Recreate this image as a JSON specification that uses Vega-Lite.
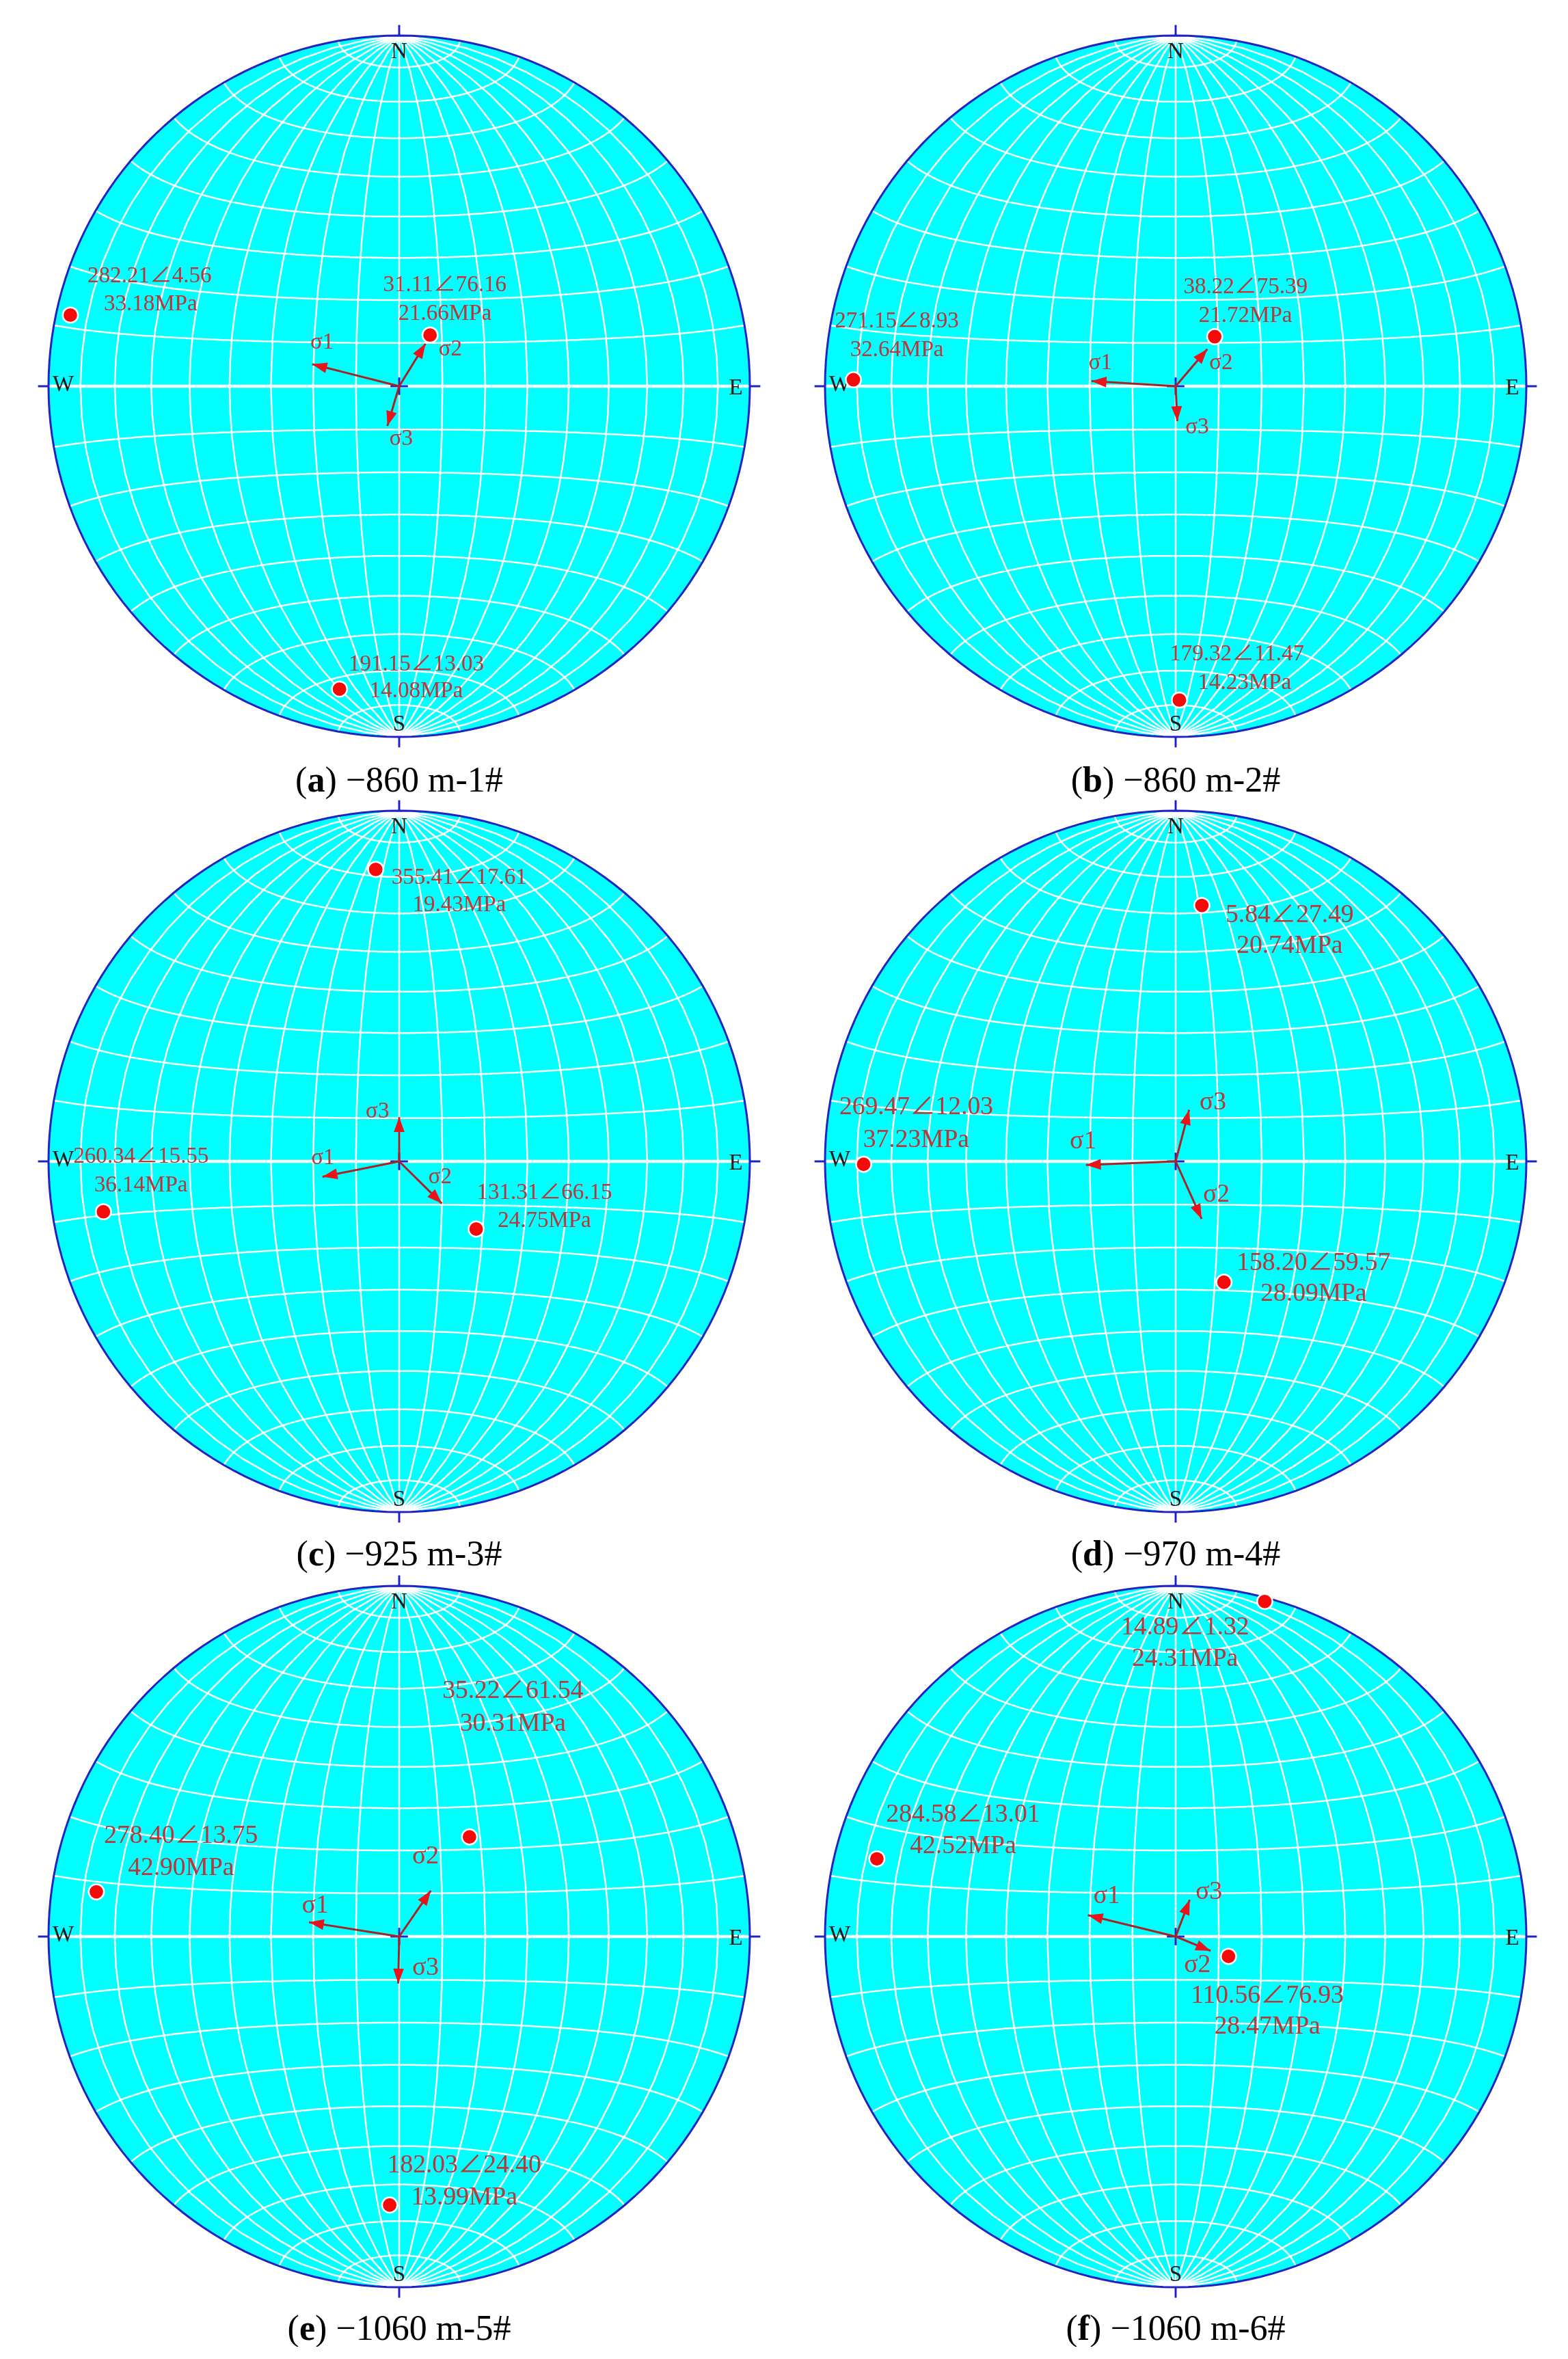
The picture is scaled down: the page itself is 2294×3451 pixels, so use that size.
{
"$schema": "https://vega.github.io/schema/vega-lite/v6.json",
"background": "white",
"padding": {"left": 14, "top": 0, "right": 0, "bottom": 0},
"bounds": "flush",
"spacing": 0,
"columns": 2,
"config": {"view": {"stroke": null}},
"datasets": {
"eq": [{"x": -0.995, "y": 0, "x2": 0.995, "y2": 0}],
"ax": [
{"x": 0, "y": 1, "x2": 0, "y2": 1.03},
{"x": 0, "y": -1, "x2": 0, "y2": -1.03},
{"x": -1, "y": 0, "x2": -1.03, "y2": 0},
{"x": 1, "y": 0, "x2": 1.03, "y2": 0},
{"x": -0.025, "y": 0, "x2": 0.025, "y2": 0},
{"x": 0, "y": -0.025, "x2": 0, "y2": 0.025}
],
"dirs": [
{"t": "N", "x": 0, "y": 0.955},
{"t": "S", "x": 0, "y": -0.962},
{"t": "W", "x": -0.958, "y": 0.006},
{"t": "E", "x": 0.96, "y": -0.004}
],
"pts": [
{"p": "a", "trend": 282.21, "plunge": 4.56, "mpa": 33.18, "x": -0.9378, "y": 0.2029},
{"p": "a", "trend": 31.11, "plunge": 76.16, "mpa": 21.66, "x": 0.0880, "y": 0.1459},
{"p": "a", "trend": 191.15, "plunge": 13.03, "mpa": 14.08, "x": -0.1702, "y": -0.8637},
{"p": "b", "trend": 271.15, "plunge": 8.93, "mpa": 32.64, "x": -0.9190, "y": 0.0185},
{"p": "b", "trend": 38.22, "plunge": 75.39, "mpa": 21.72, "x": 0.1113, "y": 0.1413},
{"p": "b", "trend": 179.32, "plunge": 11.47, "mpa": 14.23, "x": 0.0106, "y": -0.8950},
{"p": "c", "trend": 355.41, "plunge": 17.61, "mpa": 19.43, "x": -0.0669, "y": 0.8326},
{"p": "c", "trend": 260.34, "plunge": 15.55, "mpa": 36.14, "x": -0.8435, "y": -0.1436},
{"p": "c", "trend": 131.31, "plunge": 66.15, "mpa": 24.75, "x": 0.2195, "y": -0.1929},
{"p": "d", "trend": 5.84, "plunge": 27.49, "mpa": 20.74, "x": 0.0747, "y": 0.7299},
{"p": "d", "trend": 269.47, "plunge": 12.03, "mpa": 37.23, "x": -0.8899, "y": -0.0082},
{"p": "d", "trend": 158.20, "plunge": 59.57, "mpa": 28.09, "x": 0.1378, "y": -0.3446},
{"p": "e", "trend": 35.22, "plunge": 61.54, "mpa": 30.31, "x": 0.2005, "y": 0.2840},
{"p": "e", "trend": 278.40, "plunge": 13.75, "mpa": 42.90, "x": -0.8637, "y": 0.1275},
{"p": "e", "trend": 182.03, "plunge": 24.40, "mpa": 13.99, "x": -0.0271, "y": -0.7656},
{"p": "f", "trend": 14.89, "plunge": 1.32, "mpa": 24.31, "x": 0.2541, "y": 0.9555},
{"p": "f", "trend": 284.58, "plunge": 13.01, "mpa": 42.52, "x": -0.8521, "y": 0.2216},
{"p": "f", "trend": 110.56, "plunge": 76.93, "mpa": 28.47, "x": 0.1507, "y": -0.0565}
],
"arr": [
{"p": "a", "s": "σ1", "x": 0, "y": 0, "x2": -0.2481, "y2": 0.0628, "ang": 284.2},
{"p": "a", "s": "σ2", "x": 0, "y": 0, "x2": 0.0749, "y2": 0.1214, "ang": 31.7},
{"p": "a", "s": "σ3", "x": 0, "y": 0, "x2": -0.0337, "y2": -0.1133, "ang": 196.6},
{"p": "b", "s": "σ1", "x": 0, "y": 0, "x2": -0.2399, "y2": 0.0146, "ang": 273.5},
{"p": "b", "s": "σ2", "x": 0, "y": 0, "x2": 0.0901, "y2": 0.1057, "ang": 40.4},
{"p": "b", "s": "σ3", "x": 0, "y": 0, "x2": 0.0047, "y2": -0.0998, "ang": 177.3},
{"p": "c", "s": "σ1", "x": 0, "y": 0, "x2": -0.2187, "y2": -0.0438, "ang": 258.7},
{"p": "c", "s": "σ2", "x": 0, "y": 0, "x2": 0.1216, "y2": -0.1201, "ang": 134.6},
{"p": "c", "s": "σ3", "x": 0, "y": 0, "x2": 0.0, "y2": 0.1263, "ang": 0},
{"p": "d", "s": "σ1", "x": 0, "y": 0, "x2": -0.2559, "y2": -0.0101, "ang": 267.7},
{"p": "d", "s": "σ2", "x": 0, "y": 0, "x2": 0.0741, "y2": -0.1641, "ang": 155.7},
{"p": "d", "s": "σ3", "x": 0, "y": 0, "x2": 0.0384, "y2": 0.1468, "ang": 14.7},
{"p": "e", "s": "σ1", "x": 0, "y": 0, "x2": -0.2573, "y2": 0.0407, "ang": 279.0},
{"p": "e", "s": "σ2", "x": 0, "y": 0, "x2": 0.0902, "y2": 0.131, "ang": 34.5},
{"p": "e", "s": "σ3", "x": 0, "y": 0, "x2": -0.0027, "y2": -0.1341, "ang": 181.2},
{"p": "f", "s": "σ1", "x": 0, "y": 0, "x2": -0.2503, "y2": 0.061, "ang": 283.7},
{"p": "f", "s": "σ2", "x": 0, "y": 0, "x2": 0.0996, "y2": -0.0409, "ang": 112.3},
{"p": "f", "s": "σ3", "x": 0, "y": 0, "x2": 0.04, "y2": 0.1047, "ang": 20.9}
],
"txt": [
{"p": "a", "t": "282.21∠4.56", "x": -0.7113, "y": 0.3166},
{"p": "a", "t": "33.18MPa", "x": -0.7086, "y": 0.2359},
{"p": "a", "t": "31.11∠76.16", "x": 0.1306, "y": 0.2901},
{"p": "a", "t": "21.66MPa", "x": 0.1306, "y": 0.2094},
{"p": "a", "t": "191.15∠13.03", "x": 0.0491, "y": -0.7911},
{"p": "a", "t": "14.08MPa", "x": 0.0491, "y": -0.8674},
{"p": "a", "t": "σ1", "x": -0.2197, "y": 0.1258},
{"p": "a", "t": "σ2", "x": 0.1464, "y": 0.1068},
{"p": "a", "t": "σ3", "x": 0.0062, "y": -0.1485},
{"p": "b", "t": "271.15∠8.93", "x": -0.7946, "y": 0.1877},
{"p": "b", "t": "32.64MPa", "x": -0.7946, "y": 0.1056},
{"p": "b", "t": "38.22∠75.39", "x": 0.1996, "y": 0.2846},
{"p": "b", "t": "21.72MPa", "x": 0.1996, "y": 0.2024},
{"p": "b", "t": "179.32∠11.47", "x": 0.1754, "y": -0.7628},
{"p": "b", "t": "14.23MPa", "x": 0.1969, "y": -0.8435},
{"p": "b", "t": "σ1", "x": -0.2144, "y": 0.069},
{"p": "b", "t": "σ2", "x": 0.1298, "y": 0.069},
{"p": "b", "t": "σ3", "x": 0.0616, "y": -0.1144},
{"p": "c", "t": "355.41∠17.61", "x": 0.1716, "y": 0.8114},
{"p": "c", "t": "19.43MPa", "x": 0.1716, "y": 0.7337},
{"p": "c", "t": "260.34∠15.55", "x": -0.7361, "y": 0.0148},
{"p": "c", "t": "36.14MPa", "x": -0.7361, "y": -0.0659},
{"p": "c", "t": "131.31∠66.15", "x": 0.4146, "y": -0.0879},
{"p": "c", "t": "24.75MPa", "x": 0.4146, "y": -0.1671},
{"p": "c", "t": "σ1", "x": -0.2172, "y": 0.0119},
{"p": "c", "t": "σ2", "x": 0.1173, "y": -0.0438},
{"p": "c", "t": "σ3", "x": -0.0614, "y": 0.1439},
{"p": "d", "t": "5.84∠27.49", "x": 0.3257, "y": 0.7043},
{"p": "d", "t": "20.74MPa", "x": 0.3257, "y": 0.6163},
{"p": "d", "t": "269.47∠12.03", "x": -0.7395, "y": 0.1557},
{"p": "d", "t": "37.23MPa", "x": -0.7395, "y": 0.0632},
{"p": "d", "t": "158.20∠59.57", "x": 0.394, "y": -0.2889},
{"p": "d", "t": "28.09MPa", "x": 0.394, "y": -0.3768},
{"p": "d", "t": "σ1", "x": -0.263, "y": 0.0589},
{"p": "d", "t": "σ2", "x": 0.1167, "y": -0.0937},
{"p": "d", "t": "σ3", "x": 0.1068, "y": 0.1688},
{"p": "e", "t": "35.22∠61.54", "x": 0.3246, "y": 0.7016},
{"p": "e", "t": "30.31MPa", "x": 0.3246, "y": 0.6084},
{"p": "e", "t": "278.40∠13.75", "x": -0.6218, "y": 0.2881},
{"p": "e", "t": "42.90MPa", "x": -0.6218, "y": 0.1965},
{"p": "e", "t": "182.03∠24.40", "x": 0.186, "y": -0.6509},
{"p": "e", "t": "13.99MPa", "x": 0.186, "y": -0.7425},
{"p": "e", "t": "σ1", "x": -0.2386, "y": 0.0902},
{"p": "e", "t": "σ2", "x": 0.0758, "y": 0.2299},
{"p": "e", "t": "σ3", "x": 0.0758, "y": -0.0875},
{"p": "f", "t": "14.89∠1.32", "x": 0.0271, "y": 0.8836},
{"p": "f", "t": "24.31MPa", "x": 0.0271, "y": 0.7933},
{"p": "f", "t": "284.58∠13.01", "x": -0.6058, "y": 0.3493},
{"p": "f", "t": "42.52MPa", "x": -0.6058, "y": 0.259},
{"p": "f", "t": "110.56∠76.93", "x": 0.2618, "y": -0.1675},
{"p": "f", "t": "28.47MPa", "x": 0.2618, "y": -0.2548},
{"p": "f", "t": "σ1", "x": -0.1961, "y": 0.1164},
{"p": "f", "t": "σ2", "x": 0.0626, "y": -0.0801},
{"p": "f", "t": "σ3", "x": 0.0953, "y": 0.128}
],
"cap": [
{"p": "a", "letter": "a", "rest": ") −860 m-1#", "x": 0, "y": -1.155},
{"p": "b", "letter": "b", "rest": ") −860 m-2#", "x": 0, "y": -1.155},
{"p": "c", "letter": "c", "rest": ") −925 m-3#", "x": 0, "y": -1.152},
{"p": "d", "letter": "d", "rest": ") −970 m-4#", "x": 0, "y": -1.152},
{"p": "e", "letter": "e", "rest": ") −1060 m-5#", "x": 0, "y": -1.15},
{"p": "f", "letter": "f", "rest": ") −1060 m-6#", "x": 0, "y": -1.15}
]
},
"concat": [
{
"width": 1136, "height": 1134,
"projection": {"type": "azimuthalEqualArea", "scale": 362.75, "translate": [570, 565], "clipAngle": 90, "rotate": [0, 0, 0]},
"layer": [
{"data": {"sphere": true}, "mark": {"type": "geoshape", "fill": "#00ffff", "strokeWidth": 0}},
{"data": {"graticule": {"stepMinor": [10, 10], "extentMinor": [[-180, -89.99], [180, 89.99]], "extentMajor": [[-180, -89.99], [180, 89.99]]}}, "mark": {"type": "geoshape", "filled": false, "stroke": "#ffffff", "strokeWidth": 2.5}},
{"data": {"sphere": true}, "mark": {"type": "geoshape", "filled": false, "stroke": "#2222c4", "strokeWidth": 3}},
{
"encoding": {
"x": {"field": "x", "type": "quantitative", "scale": {"domain": [-1.11111, 1.10331], "nice": false, "zero": false}, "axis": null},
"y": {"field": "y", "type": "quantitative", "scale": {"domain": [-1.10917, 1.10136], "nice": false, "zero": false}, "axis": null}
},
"layer": [
{"data": {"name": "eq"}, "mark": {"type": "rule", "stroke": "#ffffff", "strokeWidth": 4.5}, "encoding": {"x2": {"field": "x2"}, "y2": {"field": "y2"}}},
{"data": {"name": "ax"}, "mark": {"type": "rule", "stroke": "#2222c4", "strokeWidth": 3}, "encoding": {"x2": {"field": "x2"}, "y2": {"field": "y2"}}},
{"data": {"name": "dirs"}, "mark": {"type": "text", "font": "Liberation Serif", "fontSize": 33, "fill": "#1a1a1a", "align": "center", "baseline": "middle"}, "encoding": {"text": {"field": "t"}}},
{"data": {"name": "arr"}, "transform": [{"filter": "datum.p == 'a'"}], "mark": {"type": "rule", "stroke": "#a82424", "strokeWidth": 3}, "encoding": {"x2": {"field": "x2"}, "y2": {"field": "y2"}}},
{"data": {"name": "arr"}, "transform": [{"filter": "datum.p == 'a'"}], "mark": {"type": "point", "shape": "M0,0L0.36,1L-0.36,1Z", "filled": true, "fill": "#e8141a", "strokeWidth": 0, "size": 1900, "opacity": 1}, "encoding": {
"x": {"field": "x2", "type": "quantitative", "scale": {"domain": [-1.11111, 1.10331], "nice": false, "zero": false}, "axis": null},
"y": {"field": "y2", "type": "quantitative", "scale": {"domain": [-1.10917, 1.10136], "nice": false, "zero": false}, "axis": null},
"angle": {"field": "ang", "type": "quantitative", "scale": null}}},
{"data": {"name": "pts"}, "transform": [{"filter": "datum.p == 'a'"}], "mark": {"type": "point", "shape": "circle", "filled": true, "fill": "#f50a0a", "stroke": "#ffffff", "strokeWidth": 2.5, "size": 500, "opacity": 1}},
{"data": {"name": "txt"}, "transform": [{"filter": "datum.p == 'a'"}], "mark": {"type": "text", "font": "Liberation Serif, Noto Sans CJK SC", "fontSize": 33, "fill": "#b83a3a", "align": "center", "baseline": "middle"}, "encoding": {"text": {"field": "t"}}},
{"data": {"name": "cap"}, "transform": [{"filter": "datum.p == 'a'"}], "mark": {"type": "text", "text": "(", "font": "Liberation Serif", "fontSize": 52, "fill": "#000000", "align": "left", "baseline": "alphabetic", "dx": -151.9}},
{"data": {"name": "cap"}, "transform": [{"filter": "datum.p == 'a'"}], "mark": {"type": "text", "font": "Liberation Serif", "fontSize": 52, "fontWeight": "bold", "fill": "#000000", "align": "left", "baseline": "alphabetic", "dx": -134.6}, "encoding": {"text": {"field": "letter"}}},
{"data": {"name": "cap"}, "transform": [{"filter": "datum.p == 'a'"}], "mark": {"type": "text", "font": "Liberation Serif", "fontSize": 52, "fill": "#000000", "align": "left", "baseline": "alphabetic", "dx": -108.6}, "encoding": {"text": {"field": "rest"}}}
]
}
]
},
{
"width": 1136, "height": 1134,
"projection": {"type": "azimuthalEqualArea", "scale": 362.75, "translate": [570, 565], "clipAngle": 90, "rotate": [0, 0, 0]},
"layer": [
{"data": {"sphere": true}, "mark": {"type": "geoshape", "fill": "#00ffff", "strokeWidth": 0}},
{"data": {"graticule": {"stepMinor": [10, 10], "extentMinor": [[-180, -89.99], [180, 89.99]], "extentMajor": [[-180, -89.99], [180, 89.99]]}}, "mark": {"type": "geoshape", "filled": false, "stroke": "#ffffff", "strokeWidth": 2.5}},
{"data": {"sphere": true}, "mark": {"type": "geoshape", "filled": false, "stroke": "#2222c4", "strokeWidth": 3}},
{
"encoding": {
"x": {"field": "x", "type": "quantitative", "scale": {"domain": [-1.11111, 1.10331], "nice": false, "zero": false}, "axis": null},
"y": {"field": "y", "type": "quantitative", "scale": {"domain": [-1.10917, 1.10136], "nice": false, "zero": false}, "axis": null}
},
"layer": [
{"data": {"name": "eq"}, "mark": {"type": "rule", "stroke": "#ffffff", "strokeWidth": 4.5}, "encoding": {"x2": {"field": "x2"}, "y2": {"field": "y2"}}},
{"data": {"name": "ax"}, "mark": {"type": "rule", "stroke": "#2222c4", "strokeWidth": 3}, "encoding": {"x2": {"field": "x2"}, "y2": {"field": "y2"}}},
{"data": {"name": "dirs"}, "mark": {"type": "text", "font": "Liberation Serif", "fontSize": 33, "fill": "#1a1a1a", "align": "center", "baseline": "middle"}, "encoding": {"text": {"field": "t"}}},
{"data": {"name": "arr"}, "transform": [{"filter": "datum.p == 'b'"}], "mark": {"type": "rule", "stroke": "#a82424", "strokeWidth": 3}, "encoding": {"x2": {"field": "x2"}, "y2": {"field": "y2"}}},
{"data": {"name": "arr"}, "transform": [{"filter": "datum.p == 'b'"}], "mark": {"type": "point", "shape": "M0,0L0.36,1L-0.36,1Z", "filled": true, "fill": "#e8141a", "strokeWidth": 0, "size": 1900, "opacity": 1}, "encoding": {
"x": {"field": "x2", "type": "quantitative", "scale": {"domain": [-1.11111, 1.10331], "nice": false, "zero": false}, "axis": null},
"y": {"field": "y2", "type": "quantitative", "scale": {"domain": [-1.10917, 1.10136], "nice": false, "zero": false}, "axis": null},
"angle": {"field": "ang", "type": "quantitative", "scale": null}}},
{"data": {"name": "pts"}, "transform": [{"filter": "datum.p == 'b'"}], "mark": {"type": "point", "shape": "circle", "filled": true, "fill": "#f50a0a", "stroke": "#ffffff", "strokeWidth": 2.5, "size": 500, "opacity": 1}},
{"data": {"name": "txt"}, "transform": [{"filter": "datum.p == 'b'"}], "mark": {"type": "text", "font": "Liberation Serif, Noto Sans CJK SC", "fontSize": 33, "fill": "#b83a3a", "align": "center", "baseline": "middle"}, "encoding": {"text": {"field": "t"}}},
{"data": {"name": "cap"}, "transform": [{"filter": "datum.p == 'b'"}], "mark": {"type": "text", "text": "(", "font": "Liberation Serif", "fontSize": 52, "fill": "#000000", "align": "left", "baseline": "alphabetic", "dx": -153.3}},
{"data": {"name": "cap"}, "transform": [{"filter": "datum.p == 'b'"}], "mark": {"type": "text", "font": "Liberation Serif", "fontSize": 52, "fontWeight": "bold", "fill": "#000000", "align": "left", "baseline": "alphabetic", "dx": -136.0}, "encoding": {"text": {"field": "letter"}}},
{"data": {"name": "cap"}, "transform": [{"filter": "datum.p == 'b'"}], "mark": {"type": "text", "font": "Liberation Serif", "fontSize": 52, "fill": "#000000", "align": "left", "baseline": "alphabetic", "dx": -107.1}, "encoding": {"text": {"field": "rest"}}}
]
}
]
},
{
"width": 1136, "height": 1134,
"projection": {"type": "azimuthalEqualArea", "scale": 362.75, "translate": [570, 565], "clipAngle": 90, "rotate": [0, 0, 0]},
"layer": [
{"data": {"sphere": true}, "mark": {"type": "geoshape", "fill": "#00ffff", "strokeWidth": 0}},
{"data": {"graticule": {"stepMinor": [10, 10], "extentMinor": [[-180, -89.99], [180, 89.99]], "extentMajor": [[-180, -89.99], [180, 89.99]]}}, "mark": {"type": "geoshape", "filled": false, "stroke": "#ffffff", "strokeWidth": 2.5}},
{"data": {"sphere": true}, "mark": {"type": "geoshape", "filled": false, "stroke": "#2222c4", "strokeWidth": 3}},
{
"encoding": {
"x": {"field": "x", "type": "quantitative", "scale": {"domain": [-1.11111, 1.10331], "nice": false, "zero": false}, "axis": null},
"y": {"field": "y", "type": "quantitative", "scale": {"domain": [-1.10917, 1.10136], "nice": false, "zero": false}, "axis": null}
},
"layer": [
{"data": {"name": "eq"}, "mark": {"type": "rule", "stroke": "#ffffff", "strokeWidth": 4.5}, "encoding": {"x2": {"field": "x2"}, "y2": {"field": "y2"}}},
{"data": {"name": "ax"}, "mark": {"type": "rule", "stroke": "#2222c4", "strokeWidth": 3}, "encoding": {"x2": {"field": "x2"}, "y2": {"field": "y2"}}},
{"data": {"name": "dirs"}, "mark": {"type": "text", "font": "Liberation Serif", "fontSize": 33, "fill": "#1a1a1a", "align": "center", "baseline": "middle"}, "encoding": {"text": {"field": "t"}}},
{"data": {"name": "arr"}, "transform": [{"filter": "datum.p == 'c'"}], "mark": {"type": "rule", "stroke": "#a82424", "strokeWidth": 3}, "encoding": {"x2": {"field": "x2"}, "y2": {"field": "y2"}}},
{"data": {"name": "arr"}, "transform": [{"filter": "datum.p == 'c'"}], "mark": {"type": "point", "shape": "M0,0L0.36,1L-0.36,1Z", "filled": true, "fill": "#e8141a", "strokeWidth": 0, "size": 1900, "opacity": 1}, "encoding": {
"x": {"field": "x2", "type": "quantitative", "scale": {"domain": [-1.11111, 1.10331], "nice": false, "zero": false}, "axis": null},
"y": {"field": "y2", "type": "quantitative", "scale": {"domain": [-1.10917, 1.10136], "nice": false, "zero": false}, "axis": null},
"angle": {"field": "ang", "type": "quantitative", "scale": null}}},
{"data": {"name": "pts"}, "transform": [{"filter": "datum.p == 'c'"}], "mark": {"type": "point", "shape": "circle", "filled": true, "fill": "#f50a0a", "stroke": "#ffffff", "strokeWidth": 2.5, "size": 500, "opacity": 1}},
{"data": {"name": "txt"}, "transform": [{"filter": "datum.p == 'c'"}], "mark": {"type": "text", "font": "Liberation Serif, Noto Sans CJK SC", "fontSize": 33, "fill": "#b83a3a", "align": "center", "baseline": "middle"}, "encoding": {"text": {"field": "t"}}},
{"data": {"name": "cap"}, "transform": [{"filter": "datum.p == 'c'"}], "mark": {"type": "text", "text": "(", "font": "Liberation Serif", "fontSize": 52, "fill": "#000000", "align": "left", "baseline": "alphabetic", "dx": -150.4}},
{"data": {"name": "cap"}, "transform": [{"filter": "datum.p == 'c'"}], "mark": {"type": "text", "font": "Liberation Serif", "fontSize": 52, "fontWeight": "bold", "fill": "#000000", "align": "left", "baseline": "alphabetic", "dx": -133.1}, "encoding": {"text": {"field": "letter"}}},
{"data": {"name": "cap"}, "transform": [{"filter": "datum.p == 'c'"}], "mark": {"type": "text", "font": "Liberation Serif", "fontSize": 52, "fill": "#000000", "align": "left", "baseline": "alphabetic", "dx": -110.0}, "encoding": {"text": {"field": "rest"}}}
]
}
]
},
{
"width": 1136, "height": 1134,
"projection": {"type": "azimuthalEqualArea", "scale": 362.75, "translate": [570, 565], "clipAngle": 90, "rotate": [0, 0, 0]},
"layer": [
{"data": {"sphere": true}, "mark": {"type": "geoshape", "fill": "#00ffff", "strokeWidth": 0}},
{"data": {"graticule": {"stepMinor": [10, 10], "extentMinor": [[-180, -89.99], [180, 89.99]], "extentMajor": [[-180, -89.99], [180, 89.99]]}}, "mark": {"type": "geoshape", "filled": false, "stroke": "#ffffff", "strokeWidth": 2.5}},
{"data": {"sphere": true}, "mark": {"type": "geoshape", "filled": false, "stroke": "#2222c4", "strokeWidth": 3}},
{
"encoding": {
"x": {"field": "x", "type": "quantitative", "scale": {"domain": [-1.11111, 1.10331], "nice": false, "zero": false}, "axis": null},
"y": {"field": "y", "type": "quantitative", "scale": {"domain": [-1.10917, 1.10136], "nice": false, "zero": false}, "axis": null}
},
"layer": [
{"data": {"name": "eq"}, "mark": {"type": "rule", "stroke": "#ffffff", "strokeWidth": 4.5}, "encoding": {"x2": {"field": "x2"}, "y2": {"field": "y2"}}},
{"data": {"name": "ax"}, "mark": {"type": "rule", "stroke": "#2222c4", "strokeWidth": 3}, "encoding": {"x2": {"field": "x2"}, "y2": {"field": "y2"}}},
{"data": {"name": "dirs"}, "mark": {"type": "text", "font": "Liberation Serif", "fontSize": 33, "fill": "#1a1a1a", "align": "center", "baseline": "middle"}, "encoding": {"text": {"field": "t"}}},
{"data": {"name": "arr"}, "transform": [{"filter": "datum.p == 'd'"}], "mark": {"type": "rule", "stroke": "#a82424", "strokeWidth": 3}, "encoding": {"x2": {"field": "x2"}, "y2": {"field": "y2"}}},
{"data": {"name": "arr"}, "transform": [{"filter": "datum.p == 'd'"}], "mark": {"type": "point", "shape": "M0,0L0.36,1L-0.36,1Z", "filled": true, "fill": "#e8141a", "strokeWidth": 0, "size": 1900, "opacity": 1}, "encoding": {
"x": {"field": "x2", "type": "quantitative", "scale": {"domain": [-1.11111, 1.10331], "nice": false, "zero": false}, "axis": null},
"y": {"field": "y2", "type": "quantitative", "scale": {"domain": [-1.10917, 1.10136], "nice": false, "zero": false}, "axis": null},
"angle": {"field": "ang", "type": "quantitative", "scale": null}}},
{"data": {"name": "pts"}, "transform": [{"filter": "datum.p == 'd'"}], "mark": {"type": "point", "shape": "circle", "filled": true, "fill": "#f50a0a", "stroke": "#ffffff", "strokeWidth": 2.5, "size": 500, "opacity": 1}},
{"data": {"name": "txt"}, "transform": [{"filter": "datum.p == 'd'"}], "mark": {"type": "text", "font": "Liberation Serif, Noto Sans CJK SC", "fontSize": 37.5, "fill": "#b83a3a", "align": "center", "baseline": "middle"}, "encoding": {"text": {"field": "t"}}},
{"data": {"name": "cap"}, "transform": [{"filter": "datum.p == 'd'"}], "mark": {"type": "text", "text": "(", "font": "Liberation Serif", "fontSize": 52, "fill": "#000000", "align": "left", "baseline": "alphabetic", "dx": -153.3}},
{"data": {"name": "cap"}, "transform": [{"filter": "datum.p == 'd'"}], "mark": {"type": "text", "font": "Liberation Serif", "fontSize": 52, "fontWeight": "bold", "fill": "#000000", "align": "left", "baseline": "alphabetic", "dx": -136.0}, "encoding": {"text": {"field": "letter"}}},
{"data": {"name": "cap"}, "transform": [{"filter": "datum.p == 'd'"}], "mark": {"type": "text", "font": "Liberation Serif", "fontSize": 52, "fill": "#000000", "align": "left", "baseline": "alphabetic", "dx": -107.1}, "encoding": {"text": {"field": "rest"}}}
]
}
]
},
{
"width": 1136, "height": 1134,
"projection": {"type": "azimuthalEqualArea", "scale": 362.75, "translate": [570, 565], "clipAngle": 90, "rotate": [0, 0, 0]},
"layer": [
{"data": {"sphere": true}, "mark": {"type": "geoshape", "fill": "#00ffff", "strokeWidth": 0}},
{"data": {"graticule": {"stepMinor": [10, 10], "extentMinor": [[-180, -89.99], [180, 89.99]], "extentMajor": [[-180, -89.99], [180, 89.99]]}}, "mark": {"type": "geoshape", "filled": false, "stroke": "#ffffff", "strokeWidth": 2.5}},
{"data": {"sphere": true}, "mark": {"type": "geoshape", "filled": false, "stroke": "#2222c4", "strokeWidth": 3}},
{
"encoding": {
"x": {"field": "x", "type": "quantitative", "scale": {"domain": [-1.11111, 1.10331], "nice": false, "zero": false}, "axis": null},
"y": {"field": "y", "type": "quantitative", "scale": {"domain": [-1.10917, 1.10136], "nice": false, "zero": false}, "axis": null}
},
"layer": [
{"data": {"name": "eq"}, "mark": {"type": "rule", "stroke": "#ffffff", "strokeWidth": 4.5}, "encoding": {"x2": {"field": "x2"}, "y2": {"field": "y2"}}},
{"data": {"name": "ax"}, "mark": {"type": "rule", "stroke": "#2222c4", "strokeWidth": 3}, "encoding": {"x2": {"field": "x2"}, "y2": {"field": "y2"}}},
{"data": {"name": "dirs"}, "mark": {"type": "text", "font": "Liberation Serif", "fontSize": 33, "fill": "#1a1a1a", "align": "center", "baseline": "middle"}, "encoding": {"text": {"field": "t"}}},
{"data": {"name": "arr"}, "transform": [{"filter": "datum.p == 'e'"}], "mark": {"type": "rule", "stroke": "#a82424", "strokeWidth": 3}, "encoding": {"x2": {"field": "x2"}, "y2": {"field": "y2"}}},
{"data": {"name": "arr"}, "transform": [{"filter": "datum.p == 'e'"}], "mark": {"type": "point", "shape": "M0,0L0.36,1L-0.36,1Z", "filled": true, "fill": "#e8141a", "strokeWidth": 0, "size": 1900, "opacity": 1}, "encoding": {
"x": {"field": "x2", "type": "quantitative", "scale": {"domain": [-1.11111, 1.10331], "nice": false, "zero": false}, "axis": null},
"y": {"field": "y2", "type": "quantitative", "scale": {"domain": [-1.10917, 1.10136], "nice": false, "zero": false}, "axis": null},
"angle": {"field": "ang", "type": "quantitative", "scale": null}}},
{"data": {"name": "pts"}, "transform": [{"filter": "datum.p == 'e'"}], "mark": {"type": "point", "shape": "circle", "filled": true, "fill": "#f50a0a", "stroke": "#ffffff", "strokeWidth": 2.5, "size": 500, "opacity": 1}},
{"data": {"name": "txt"}, "transform": [{"filter": "datum.p == 'e'"}], "mark": {"type": "text", "font": "Liberation Serif, Noto Sans CJK SC", "fontSize": 37.5, "fill": "#b83a3a", "align": "center", "baseline": "middle"}, "encoding": {"text": {"field": "t"}}},
{"data": {"name": "cap"}, "transform": [{"filter": "datum.p == 'e'"}], "mark": {"type": "text", "text": "(", "font": "Liberation Serif", "fontSize": 52, "fill": "#000000", "align": "left", "baseline": "alphabetic", "dx": -163.4}},
{"data": {"name": "cap"}, "transform": [{"filter": "datum.p == 'e'"}], "mark": {"type": "text", "font": "Liberation Serif", "fontSize": 52, "fontWeight": "bold", "fill": "#000000", "align": "left", "baseline": "alphabetic", "dx": -146.1}, "encoding": {"text": {"field": "letter"}}},
{"data": {"name": "cap"}, "transform": [{"filter": "datum.p == 'e'"}], "mark": {"type": "text", "font": "Liberation Serif", "fontSize": 52, "fill": "#000000", "align": "left", "baseline": "alphabetic", "dx": -123.0}, "encoding": {"text": {"field": "rest"}}}
]
}
]
},
{
"width": 1136, "height": 1134,
"projection": {"type": "azimuthalEqualArea", "scale": 362.75, "translate": [570, 565], "clipAngle": 90, "rotate": [0, 0, 0]},
"layer": [
{"data": {"sphere": true}, "mark": {"type": "geoshape", "fill": "#00ffff", "strokeWidth": 0}},
{"data": {"graticule": {"stepMinor": [10, 10], "extentMinor": [[-180, -89.99], [180, 89.99]], "extentMajor": [[-180, -89.99], [180, 89.99]]}}, "mark": {"type": "geoshape", "filled": false, "stroke": "#ffffff", "strokeWidth": 2.5}},
{"data": {"sphere": true}, "mark": {"type": "geoshape", "filled": false, "stroke": "#2222c4", "strokeWidth": 3}},
{
"encoding": {
"x": {"field": "x", "type": "quantitative", "scale": {"domain": [-1.11111, 1.10331], "nice": false, "zero": false}, "axis": null},
"y": {"field": "y", "type": "quantitative", "scale": {"domain": [-1.10917, 1.10136], "nice": false, "zero": false}, "axis": null}
},
"layer": [
{"data": {"name": "eq"}, "mark": {"type": "rule", "stroke": "#ffffff", "strokeWidth": 4.5}, "encoding": {"x2": {"field": "x2"}, "y2": {"field": "y2"}}},
{"data": {"name": "ax"}, "mark": {"type": "rule", "stroke": "#2222c4", "strokeWidth": 3}, "encoding": {"x2": {"field": "x2"}, "y2": {"field": "y2"}}},
{"data": {"name": "dirs"}, "mark": {"type": "text", "font": "Liberation Serif", "fontSize": 33, "fill": "#1a1a1a", "align": "center", "baseline": "middle"}, "encoding": {"text": {"field": "t"}}},
{"data": {"name": "arr"}, "transform": [{"filter": "datum.p == 'f'"}], "mark": {"type": "rule", "stroke": "#a82424", "strokeWidth": 3}, "encoding": {"x2": {"field": "x2"}, "y2": {"field": "y2"}}},
{"data": {"name": "arr"}, "transform": [{"filter": "datum.p == 'f'"}], "mark": {"type": "point", "shape": "M0,0L0.36,1L-0.36,1Z", "filled": true, "fill": "#e8141a", "strokeWidth": 0, "size": 1900, "opacity": 1}, "encoding": {
"x": {"field": "x2", "type": "quantitative", "scale": {"domain": [-1.11111, 1.10331], "nice": false, "zero": false}, "axis": null},
"y": {"field": "y2", "type": "quantitative", "scale": {"domain": [-1.10917, 1.10136], "nice": false, "zero": false}, "axis": null},
"angle": {"field": "ang", "type": "quantitative", "scale": null}}},
{"data": {"name": "pts"}, "transform": [{"filter": "datum.p == 'f'"}], "mark": {"type": "point", "shape": "circle", "filled": true, "fill": "#f50a0a", "stroke": "#ffffff", "strokeWidth": 2.5, "size": 500, "opacity": 1}},
{"data": {"name": "txt"}, "transform": [{"filter": "datum.p == 'f'"}], "mark": {"type": "text", "font": "Liberation Serif, Noto Sans CJK SC", "fontSize": 37.5, "fill": "#b83a3a", "align": "center", "baseline": "middle"}, "encoding": {"text": {"field": "t"}}},
{"data": {"name": "cap"}, "transform": [{"filter": "datum.p == 'f'"}], "mark": {"type": "text", "text": "(", "font": "Liberation Serif", "fontSize": 52, "fill": "#000000", "align": "left", "baseline": "alphabetic", "dx": -160.5}},
{"data": {"name": "cap"}, "transform": [{"filter": "datum.p == 'f'"}], "mark": {"type": "text", "font": "Liberation Serif", "fontSize": 52, "fontWeight": "bold", "fill": "#000000", "align": "left", "baseline": "alphabetic", "dx": -143.2}, "encoding": {"text": {"field": "letter"}}},
{"data": {"name": "cap"}, "transform": [{"filter": "datum.p == 'f'"}], "mark": {"type": "text", "font": "Liberation Serif", "fontSize": 52, "fill": "#000000", "align": "left", "baseline": "alphabetic", "dx": -125.9}, "encoding": {"text": {"field": "rest"}}}
]
}
]
}
]
}
